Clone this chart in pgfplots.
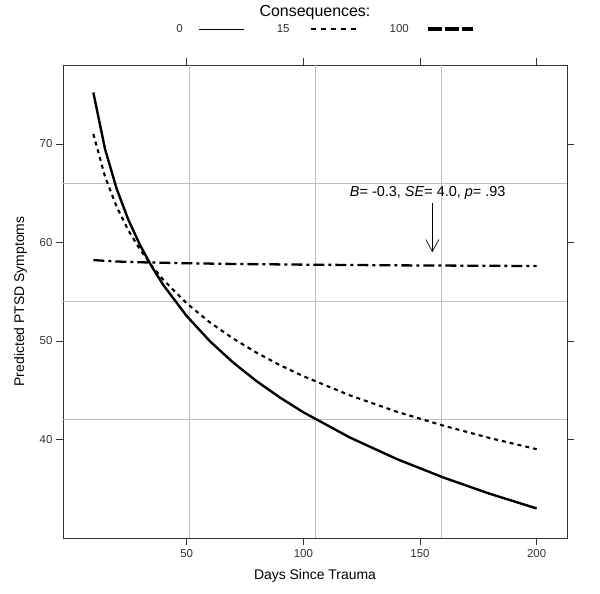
\documentclass[border=0pt]{standalone}
\usepackage{fontspec}
\setmainfont{Liberation Sans}
\usepackage{pgfplots}
\pgfplotsset{compat=1.18}
\usetikzlibrary{arrows.meta}
\definecolor{gridgray}{HTML}{BEBEBE}
\definecolor{axgray}{HTML}{333333}
\begin{document}
\begin{tikzpicture}
\path[use as bounding box] (-63bp,-56bp) rectangle (537bp,538bp);
\begin{axis}[
  at={(0,0)}, anchor=south west,
  scale only axis, width=504bp, height=473bp,
  xmin=-3, xmax=213, ymin=30, ymax=78,
  xtick={50,100,150,200}, ytick={40,50,60,70},
  tick align=outside, major tick length=7bp,
  tick style={axgray, line width=0.6pt},
  axis line style={axgray, line width=0.8pt},
  /pgf/number format/assume math mode=true,
  tick label style={font=\fontsize{11.5}{13}\selectfont, text=axgray},
  xticklabel style={yshift=-1bp},
  extra x ticks={51,105,159}, extra y ticks={42,54,66},
  extra x tick labels={}, extra y tick labels={},
  extra tick style={grid=major, major tick length=0pt, major grid style={gridgray, line width=0.7pt}},
  xlabel={Days Since Trauma}, ylabel={Predicted PTSD Symptoms},
  label style={font=\fontsize{14}{16}\selectfont},
  xlabel style={yshift=2bp}, ylabel style={yshift=-1bp},
  title={Consequences:},
  title style={font=\fontsize{16}{19}\selectfont, at={(0.5,1)}, anchor=center, yshift=46bp},
  legend columns=3, legend plot pos=right,
  legend image code/.code={\draw[#1] (0bp,0bp) -- (45bp,0bp);},
  legend style={draw=none, fill=none, at={(0.5,1)}, anchor=center, yshift=36bp, xshift=10bp,
    inner sep=0pt, nodes={inner sep=0pt, font=\fontsize{11.5}{13}\selectfont, text=axgray},
    /tikz/column sep=0pt},
]
\addlegendimage{black, line width=0.8pt}
\addlegendentry{\makebox[24bp][r]{0\kern16bp}}
\addlegendimage{black, line width=2.2pt, dash pattern=on 5bp off 5bp}
\addlegendentry{\makebox[65bp][r]{15\kern20bp}}
\addlegendimage{black, line width=3.5pt, dash pattern=on 14bp off 3bp}
\addlegendentry{\makebox[70bp][r]{100\kern18bp}}

\addplot[forget plot, black, line width=2.4pt] coordinates {
(10,75.21) (15,69.49) (20,65.44) (25,62.30) (30,59.73) (35,57.56) (40,55.67)
(50,52.53) (60,49.96) (70,47.79) (80,45.91) (90,44.25) (100,42.76)
(120,40.19) (140,38.02) (160,36.14) (180,34.48) (200,33.00)};
\addplot[forget plot, black, line width=2.1pt, dash pattern=on 4bp off 4bp] coordinates {
(10,71.01) (15,66.68) (20,63.61) (25,61.22) (30,59.28) (35,57.63) (40,56.20)
(50,53.82) (60,51.87) (70,50.23) (80,48.80) (90,47.54) (100,46.42)
(120,44.47) (140,42.82) (160,41.40) (180,40.14) (200,39.01)};
\addplot[forget plot, black, line width=2.3pt, dash pattern=on 11bp off 4bp on 3bp off 4bp] coordinates {
(10,58.20) (20,58.06) (30,57.98) (50,57.88) (70,57.81) (100,57.74) (140,57.67) (200,57.60)};

\node[font=\fontsize{14.5}{17}\selectfont] at (axis cs:153.3,65.0)
  {\textit{B}= -0.3, \textit{SE}= 4.0, \textit{p}= .93};
\draw[black, line width=0.7pt, -{Straight Barb[length=12bp,width=13bp]}]
  (axis cs:155.3,64.0) -- (axis cs:155.3,59.0);
\end{axis}
\end{tikzpicture}
\end{document}
